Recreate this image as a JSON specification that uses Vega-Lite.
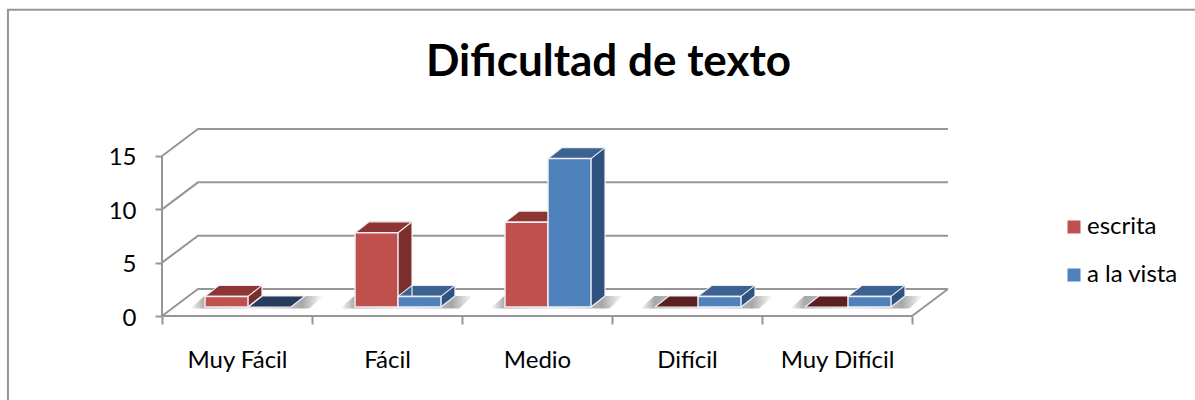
{
"$schema":"https://vega.github.io/schema/vega-lite/v6.json",
"width":1195,"height":400,"padding":0,"autosize":{"type":"none"},
"background":"white",
"config":{"view":{"stroke":null},"font":"Lato"},
"title":{"text":"Dificultad de texto","font":"Lato","fontSize":44,"fontWeight":"bold","color":"#000000","anchor":"middle","frame":"group","baseline":"alphabetic","offset":0,"dx":11,"dy":120},
"datasets":{
"barras":[
{"nivel":"Muy Fácil","tipo":"escrita","valor":1},
{"nivel":"Muy Fácil","tipo":"a la vista","valor":0},
{"nivel":"Fácil","tipo":"escrita","valor":7},
{"nivel":"Fácil","tipo":"a la vista","valor":1},
{"nivel":"Medio","tipo":"escrita","valor":8},
{"nivel":"Medio","tipo":"a la vista","valor":14},
{"nivel":"Difícil","tipo":"escrita","valor":0},
{"nivel":"Difícil","tipo":"a la vista","valor":1},
{"nivel":"Muy Difícil","tipo":"escrita","valor":0},
{"nivel":"Muy Difícil","tipo":"a la vista","valor":1}
],
"estructura":[
{"id":"marco","o":0,"p":6.89,"v":28.7},{"id":"marco","o":1,"p":-1.027,"v":28.7},{"id":"marco","o":2,"p":-1.027,"v":-7.87},
{"id":"g0","o":0,"p":0,"v":0},{"id":"g0","o":1,"p":0.24,"v":2.53},{"id":"g0","o":2,"p":5.24,"v":2.53},
{"id":"g5","o":0,"p":0,"v":5},{"id":"g5","o":1,"p":0.24,"v":7.53},{"id":"g5","o":2,"p":5.24,"v":7.53},
{"id":"g10","o":0,"p":0,"v":10},{"id":"g10","o":1,"p":0.24,"v":12.53},{"id":"g10","o":2,"p":5.24,"v":12.53},
{"id":"g15","o":0,"p":0,"v":15},{"id":"g15","o":1,"p":0.24,"v":17.53},{"id":"g15","o":2,"p":5.24,"v":17.53},
{"id":"suelo","o":0,"p":0,"v":0},{"id":"suelo","o":1,"p":5,"v":0},{"id":"suelo","o":2,"p":5.24,"v":2.53},
{"id":"eje","o":0,"p":0,"v":0},{"id":"eje","o":1,"p":0,"v":15}
]
},
"resolve":{"scale":{"x":"independent","y":"independent","xOffset":"independent","color":"independent"},"axis":{"x":"independent","y":"independent"}},
"layer":[
{"data":{"name":"estructura"},
 "mark":{"type":"line","stroke":"#969696","strokeWidth":2,"clip":false},
 "encoding":{
  "x":{"field":"p","type":"quantitative","scale":{"domain":[0,5.24],"range":[162,948],"nice":false,"zero":false},"axis":null},
  "y":{"field":"v","type":"quantitative","scale":{"domain":[0,17.53],"range":[316,129],"nice":false,"zero":false},
       "axis":{"orient":"left","offset":-162,"values":[0,5,10,15],"title":null,"grid":false,"domain":false,"ticks":true,"tickSize":7,"tickWidth":2,"tickColor":"#969696","labelFont":"Lato","labelFontSize":24,"labelColor":"#000000","labelPadding":19,"labelOffset":2}},
  "detail":{"field":"id"},
  "order":{"field":"o"}
 }},
{"data":{"name":"barras"},
 "mark":{"type":"tick","opacity":0},
 "encoding":{
  "x":{"field":"nivel","type":"nominal","sort":null,"scale":{"domain":["Muy Fácil","Fácil","Medio","Difícil","Muy Difícil"],"range":[162,912],"paddingInner":0,"paddingOuter":0},
       "axis":{"orient":"bottom","offset":-84,"title":null,"domain":false,"grid":false,"tickBand":"extent","tickSize":8,"tickWidth":2,"tickColor":"#969696","labelAngle":0,"labelFont":"Lato","labelFontSize":24,"labelColor":"#000000","labelPadding":24}}
 }},
{"data":{"name":"barras"},
 "transform":[{"filter":"datum.tipo==='escrita'"}],
 "mark":{"type":"point","filled":true,"opacity":1,"shape":"M-1.27 0.05L2.9 0.05L3.39 -0.386L-0.78 -0.386Z","size":3249,
  "fill":{"gradient":"linear","x1":0,"x2":1,"y1":0,"y2":0,"stops":[{"offset":0,"color":"rgba(120,120,120,0)"},{"offset":0.11,"color":"rgba(120,120,120,0.65)"},{"offset":0.5,"color":"rgba(170,170,170,0.4)"},{"offset":0.84,"color":"rgba(120,120,120,0.65)"},{"offset":1,"color":"rgba(120,120,120,0)"}]}},
 "encoding":{
  "x":{"field":"nivel","type":"nominal","sort":null,"scale":{"domain":["Muy Fácil","Fácil","Medio","Difícil","Muy Difícil"],"range":[173,923],"paddingInner":0,"paddingOuter":0},"axis":null},
  "xOffset":{"field":"tipo","scale":{"type":"band","domain":["escrita","a la vista"],"paddingOuter":0.744,"paddingInner":0}},
  "y":{"datum":0,"scale":{"domain":[0,15],"range":[307,148],"nice":false},"axis":null}
 }},
{"data":{"name":"barras"},
 "transform":[{"filter":"datum.valor>0"}],
 "mark":{"type":"bar"},
 "encoding":{
  "x":{"field":"nivel","type":"nominal","sort":null,"scale":{"domain":["Muy Fácil","Fácil","Medio","Difícil","Muy Difícil"],"range":[187,937],"paddingInner":0,"paddingOuter":0},"axis":null},
  "xOffset":{"field":"tipo","scale":{"domain":["escrita","a la vista"],"paddingOuter":0.744,"paddingInner":0}},
  "y":{"field":"valor","type":"quantitative","scale":{"domain":[0,15],"range":[296,137],"nice":false},"axis":null},
  "color":{"condition":{"test":"datum.tipo==='escrita'","value":"#7b2f2d"},"value":"#2f5280"}
 }},
{"data":{"name":"barras"},
 "transform":[{"filter":"datum.valor>0"}],
 "mark":{"type":"point","filled":true,"opacity":1,"shape":"M0.754 0L0.754 -0.386L1.246 -0.386Z","size":3249},
 "encoding":{
  "x":{"field":"nivel","type":"nominal","sort":null,"scale":{"domain":["Muy Fácil","Fácil","Medio","Difícil","Muy Difícil"],"range":[173,923],"paddingInner":0,"paddingOuter":0},"axis":null},
  "xOffset":{"field":"tipo","scale":{"type":"band","domain":["escrita","a la vista"],"paddingOuter":0.744,"paddingInner":0}},
  "y":{"datum":0,"scale":{"domain":[0,15],"range":[307,148],"nice":false},"axis":null},
  "color":{"condition":{"test":"datum.tipo==='escrita'","value":"#7b2f2d"},"value":"#2f5280"}
 }},
{"data":{"name":"barras"},
 "mark":{"type":"point","filled":true,"opacity":1,"shape":"M-0.754 0L0.754 0L1.246 -0.386L-0.263 -0.386Z","size":3249,"stroke":"#eef0f4","strokeWidth":1.2,"strokeJoin":"round"},
 "encoding":{
  "x":{"field":"nivel","type":"nominal","sort":null,"scale":{"domain":["Muy Fácil","Fácil","Medio","Difícil","Muy Difícil"],"range":[173,923],"paddingInner":0,"paddingOuter":0},"axis":null},
  "xOffset":{"field":"tipo","scale":{"type":"band","domain":["escrita","a la vista"],"paddingOuter":0.744,"paddingInner":0}},
  "y":{"field":"valor","type":"quantitative","scale":{"domain":[0,15],"range":[307,148],"nice":false},"axis":null},
  "color":{"condition":[{"test":"datum.valor===0&&datum.tipo==='escrita'","value":"#5c2020"},{"test":"datum.valor===0","value":"#253c5e"},{"test":"datum.tipo==='escrita'","value":"#8e3533"}],"value":"#3c6291"}
 }},
{"data":{"name":"barras"},
 "transform":[{"filter":"datum.valor>0"}],
 "mark":{"type":"point","filled":false,"opacity":1,"shape":"M0.754 0L1.246 -0.386","size":3249,"stroke":"#eef0f4","strokeWidth":1.2},
 "encoding":{
  "x":{"field":"nivel","type":"nominal","sort":null,"scale":{"domain":["Muy Fácil","Fácil","Medio","Difícil","Muy Difícil"],"range":[173,923],"paddingInner":0,"paddingOuter":0},"axis":null},
  "xOffset":{"field":"tipo","scale":{"type":"band","domain":["escrita","a la vista"],"paddingOuter":0.744,"paddingInner":0}},
  "y":{"datum":0,"scale":{"domain":[0,15],"range":[307,148],"nice":false},"axis":null}
 }},
{"data":{"name":"barras"},
 "transform":[{"filter":"datum.valor>0"}],
 "mark":{"type":"rule","stroke":"#eef0f4","strokeWidth":1.2},
 "encoding":{
  "x":{"field":"nivel","type":"nominal","sort":null,"scale":{"domain":["Muy Fácil","Fácil","Medio","Difícil","Muy Difícil"],"range":[208.5,958.5],"paddingInner":0,"paddingOuter":0},"axis":null},
  "xOffset":{"field":"tipo","scale":{"type":"band","domain":["escrita","a la vista"],"paddingOuter":0.744,"paddingInner":0}},
  "y":{"field":"valor","type":"quantitative","scale":{"domain":[0,15],"range":[296,137],"nice":false},"axis":null},
  "y2":{"datum":0}
 }},
{"data":{"name":"barras"},
 "transform":[{"filter":"datum.valor>0"}],
 "mark":{"type":"bar","stroke":"#eef0f4","strokeWidth":1.5},
 "encoding":{
  "x":{"field":"nivel","type":"nominal","sort":null,"scale":{"domain":["Muy Fácil","Fácil","Medio","Difícil","Muy Difícil"],"range":[173,923],"paddingInner":0,"paddingOuter":0},"axis":null},
  "xOffset":{"field":"tipo","scale":{"domain":["escrita","a la vista"],"paddingOuter":0.744,"paddingInner":0}},
  "y":{"field":"valor","type":"quantitative","scale":{"domain":[0,15],"range":[307,148],"nice":false},"axis":null},
  "color":{"field":"tipo","type":"nominal","scale":{"domain":["escrita","a la vista"],"range":["#c0504d","#4f81bd"]},
    "legend":{"orient":"none","legendX":1062,"legendY":215,"title":null,"symbolType":"square","symbolSize":169,"symbolStrokeWidth":0,"labelFont":"Lato","labelFontSize":24,"labelColor":"#000000","rowPadding":24,"labelOffset":1}}
 }}
]
}
